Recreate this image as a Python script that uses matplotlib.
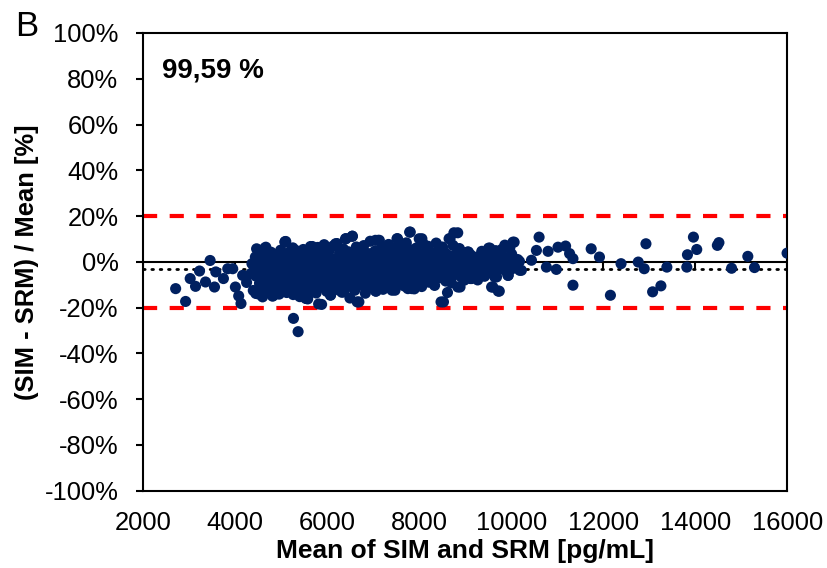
import matplotlib
matplotlib.use("Agg")
import matplotlib.pyplot as plt

plt.rcParams['font.family'] = ['Liberation Sans', 'DejaVu Sans']

# ---- data: (mean concentration [pg/mL], relative difference [%]) ----
sparse_x = [2708, 2924, 3024, 3140, 3227, 3457, 3357, 3552, 3580, 3746, 3840, 3948,
            4006, 4078, 4128, 4164, 4366, 4450, 4467, 4655, 4741, 4597, 4344, 4250,
            4668, 4777, 5084, 4993, 5317, 5268, 5369, 5577, 5880, 5678, 4813, 5101,
            5283, 5858, 6183, 6400, 6545, 6761, 6977, 7049, 5571, 4835, 6653, 6869,
            6363, 6073, 7806, 8059, 8838, 8672, 7135, 7518, 8493, 9070, 8203, 7843,
            7064, 7410, 8528, 8888, 9141]
sparse_y = [-11.7, -17.3, -7.3, -10.7, -4.0, 0.6, -8.8, -11.0, -4.4, -7.3, -3.0, -3.0,
            -11.0, -14.9, -18.2, -5.9, -0.8, -13.8, 5.7, 5.7, 3.1, -15.3, -5.1, -9.0,
            6.4, 3.8, 8.6, 4.7, 5.0, -24.7, -30.5, -16.2, -18.6, 6.7, -14.6, 8.9,
            5.0, 6.0, 7.9, 10.1, 11.2, 5.0, 2.8, 9.4, -16.0, -14.6, -17.5, -7.3,
            -13.1, -14.6, 13.0, 10.1, 12.7, 10.1, 9.4, 10.1, 6.4, 4.3, -8.8, -11.7,
            -12.8, -12.4, -17.5, -11.0, -7.3]

right_x = [10606, 9536, 10064, 9969, 10548, 10801, 11017, 11182, 11269, 11342, 10440,
           10765, 10981, 11342, 10185, 9935, 9682, 9574, 9719, 9286, 9321, 11738, 11918,
           12387, 12156, 12928, 12761, 12891, 13073, 13253, 13383, 13830, 13816, 13960,
           14032, 14480, 14514, 14789, 15142, 15287, 15995]
right_y = [10.8, 6.0, 8.6, 6.0, 5.0, 4.6, 6.4, 6.9, 3.6, 1.4, 0.7,
           -2.3, -3.3, -10.2, -3.7, -5.9, -6.6, -11.0, -12.8, 2.1, -4.4, 5.7, 2.1,
           -0.8, -14.6, 7.9, -0.1, -3.0, -13.1, -10.5, -2.3, 3.1, -2.3, 10.8,
           5.4, 7.2, 8.4, -2.8, 2.4, -2.5, 3.8]

core_x = [
    [4395, 4448, 4410, 4440], [4530, 4488, 4522, 4500], [4560, 4605, 4590, 4571],
    [4672, 4630, 4661, 4645], [4700, 4745, 4712, 4733], [4808, 4770, 4795, 4781, 4815],
    [4842, 4885, 4866, 4850], [4952, 4910, 4940, 4921, 4957], [4978, 5022, 5010, 4990, 5030],
    [5091, 5048, 5075, 5060, 5085], [5120, 5162, 5133, 5150, 5115], [5232, 5190, 5220, 5201, 5240],
    [5262, 5301, 5274, 5290, 5255], [5372, 5331, 5358, 5340, 5369], [5398, 5440, 5411, 5430, 5405],
    [5512, 5470, 5498, 5481, 5515], [5540, 5582, 5553, 5570, 5535], [5651, 5610, 5638, 5621, 5655],
    [5680, 5722, 5693, 5710, 5675], [5791, 5750, 5778, 5761, 5795], [5820, 5862, 5833, 5850, 5815],
    [5931, 5890, 5918, 5901, 5935], [5960, 6002, 5973, 5990, 5955], [6071, 6030, 6058, 6041, 6075],
    [6100, 6142, 6113, 6130, 6095], [6211, 6170, 6198, 6181, 6215], [6240, 6282, 6253, 6270, 6235],
    [6351, 6310, 6338, 6321, 6355], [6380, 6422, 6393, 6410, 6375], [6491, 6450, 6478, 6461, 6495],
    [6520, 6562, 6533, 6550, 6515], [6631, 6590, 6618, 6601, 6635], [6660, 6702, 6673, 6690, 6655],
    [6771, 6730, 6758, 6741, 6775], [6800, 6842, 6813, 6830, 6795], [6911, 6870, 6898, 6881, 6915],
    [6940, 6982, 6953, 6970, 6935], [7051, 7010, 7038, 7021, 7055], [7080, 7122, 7093, 7110, 7075],
    [7191, 7150, 7178, 7161, 7195], [7220, 7262, 7233, 7250, 7215], [7331, 7290, 7318, 7301, 7335],
    [7360, 7402, 7373, 7390, 7355], [7471, 7430, 7458, 7441, 7475], [7500, 7542, 7513, 7530, 7495],
    [7611, 7570, 7598, 7581, 7615], [7640, 7682, 7653, 7670, 7635], [7751, 7710, 7738, 7721, 7755],
    [7780, 7822, 7793, 7810, 7775], [7891, 7850, 7878, 7861, 7895], [7920, 7962, 7933, 7950, 7915],
    [8031, 7990, 8018, 8001, 8035], [8060, 8102, 8073, 8090, 8055], [8171, 8130, 8158, 8141, 8175],
    [8200, 8242, 8213, 8230, 8195], [8311, 8270, 8298, 8281, 8315], [8340, 8382, 8353, 8370, 8335],
    [8451, 8410, 8438, 8421, 8455], [8480, 8522, 8493, 8510, 8475], [8591, 8550, 8578, 8561, 8595],
    [8620, 8662, 8633, 8650, 8615], [8731, 8690, 8718, 8701, 8735], [8760, 8802, 8773, 8790, 8755],
    [8871, 8830, 8858, 8841, 8875], [8900, 8942, 8913, 8930, 8895], [9011, 8970, 8998, 8981, 9015],
    [9040, 9082, 9053, 9070, 9035], [9151, 9110, 9138, 9121], [9180, 9222, 9193, 9210],
    [9301, 9260, 9288, 9271], [9330, 9372, 9343, 9360], [9451, 9410, 9438, 9421],
    [9480, 9522, 9493, 9510], [9601, 9560, 9588, 9571], [9630, 9672, 9643, 9660],
    [9741, 9700, 9728, 9711], [9780, 9822, 9793, 9810], [9891, 9850, 9878, 9861],
    [9930, 9972, 9943, 9960], [10051, 10010, 10038, 10021], [10100, 10142], [10221, 10180],
]
core_y = [
    [-12.5, -6.2, -1.8, 2.1], [-9.4, -4.0, 0.5, -14.0], [-11.0, -7.5, -2.7, 3.5],
    [-13.2, -5.1, -0.6, 6.0], [-8.8, -3.4, 1.7, -10.9], [-12.1, -6.7, -1.2, 4.2, -15.0],
    [-9.9, -4.5, 0.9, -7.8], [-11.6, -2.3, 2.8, -6.0, -14.1], [-8.1, -3.9, 0.2, 5.1, -12.7],
    [-10.4, -5.6, -1.5, 3.0, 8.8], [-13.4, -7.2, -2.9, 1.1, -9.5], [-11.2, -4.8, 0.0, 4.6, -6.3],
    [-14.3, -8.6, -3.1, 2.3, 6.1], [-10.1, -5.9, -0.9, -12.5, 3.7], [-7.4, -2.2, 1.6, -11.8, -15.2],
    [-9.2, -4.1, 0.7, 5.4, -13.0], [-6.5, -1.4, 2.9, -10.7, -16.0], [-8.3, -3.6, 6.7, -12.0, 0.4],
    [-11.5, -5.2, -0.3, 4.0, -7.9], [-9.6, -2.6, 1.9, -13.6, 6.3], [-7.0, -4.4, 0.1, -11.1, -18.4],
    [-10.3, -5.7, -1.1, 3.3, 7.5], [-8.7, -3.0, 2.4, -12.9, -6.1], [-11.9, -6.8, -0.5, 4.8, -14.4],
    [-9.0, -4.2, 1.3, 6.9, -2.0], [-7.6, -3.3, 0.6, -10.6, 8.0], [-12.2, -5.4, -1.7, 3.9, -8.4],
    [-9.8, -2.8, 2.2, -13.3, 5.6], [-6.9, -4.6, -0.2, 10.1, -11.4], [-8.0, -3.5, 1.5, 4.4, -15.8],
    [-10.8, -5.0, -1.0, 11.2, -6.6], [-7.3, -2.4, 2.6, -12.4, 6.5], [-9.3, -4.9, 0.3, -17.5, 3.2],
    [-6.0, -1.9, 5.0, -10.2, -3.8], [-8.5, -3.2, 1.0, -13.7, 7.1], [-5.5, -0.8, 3.6, -9.1, -7.0],
    [-7.7, -2.9, 2.8, -11.3, 9.0], [-4.7, -0.4, 4.7, -8.9, -12.8], [-6.4, -2.1, 1.8, 9.4, -10.0],
    [-5.0, -1.3, 3.4, -7.6, 6.2], [-8.2, -3.7, 0.8, 5.3, -12.0], [-4.3, -0.7, 2.5, -9.7, 7.6],
    [-6.9, -2.7, 1.2, -11.6, 4.1], [-3.6, 0.2, 5.9, -8.0, -12.4], [-5.8, -1.6, 3.0, 10.1, -9.9],
    [-7.1, -3.1, 0.9, 6.6, -4.9], [-4.0, -0.1, 4.3, -10.5, -6.8], [-6.2, -2.0, 2.0, 8.3, -11.7],
    [-3.4, 0.6, 13.0, -7.3, 5.5], [-5.3, -1.8, 2.7, -9.4, -11.8], [-2.8, 1.4, 6.0, -6.5, -4.1],
    [-4.6, -0.9, 3.5, 10.1, -8.7], [-6.0, -2.3, 1.1, 7.9, -10.8], [-3.0, 0.4, 4.9, -7.7, -1.5],
    [-5.1, -1.2, 2.3, -8.8, 6.8], [-2.5, 0.8, -6.2, 3.8, -4.4], [-4.8, -1.0, 2.0, 8.2, -10.3],
    [-3.3, 0.3, -7.0, 5.2, -1.9], [-5.6, -2.1, 1.7, 6.4, -17.5], [-2.7, 0.9, -8.4, 4.0, -4.6],
    [-4.2, -0.6, 2.9, 10.1, -13.4], [-6.1, -1.7, 1.3, -9.2, 7.2], [-3.1, 0.5, -5.0, 3.1, 12.7],
    [-4.9, -1.4, 2.1, -11.0, 5.8], [-2.2, 0.0, -6.6, 1.8, -3.9], [-4.4, -0.8, 3.9, -8.0, -2.6],
    [-2.9, 0.7, 4.3, -5.9, -1.3], [-4.0, -7.3, 1.6, 3.0], [-2.4, 0.3, -5.2, -1.0],
    [-3.7, 2.1, -4.4, -7.9], [-1.8, 0.9, -3.1, 4.6], [-4.5, -0.5, 2.4, -6.3],
    [-2.0, 1.5, -3.5, 6.0], [-11.0, -4.8, -0.9, 3.2], [-2.7, 1.2, -6.6, 4.9],
    [-12.8, -3.9, -0.2, 2.6], [-1.5, 0.8, 5.4, -2.9], [-4.1, 1.9, -0.6, 7.3],
    [-5.9, -2.2, 0.6, 6.0], [-1.0, 3.4, 8.6, -3.0], [-2.0, 1.0], [-3.7, 0.2],
]

mean_bias = -3.2
limits = [20, -20]
x_ticks = [2000, 4000, 6000, 8000, 10000, 12000, 14000, 16000]
y_ticks = [-100, -80, -60, -40, -20, 0, 20, 40, 60, 80, 100]
agreement_text = "99,59 %"

# ---- assemble ----
xs = list(sparse_x) + list(right_x)
ys = list(sparse_y) + list(right_y)
for cxs, cys in zip(core_x, core_y):
    xs.extend(cxs)
    ys.extend(cys)

fig = plt.figure(figsize=(8.27, 5.68), dpi=100)
ax = fig.add_axes([0.173, 0.136, 0.779, 0.806])

ax.set_xlim(2000, 16000)
ax.set_ylim(-100, 100)

for lim in limits:
    ax.axhline(lim, color='#ff0000', lw=3.0, dashes=(3.4, 3.0), zorder=2)
ax.axhline(0, color='black', lw=1.5, zorder=1)
ax.axhline(mean_bias, color='black', lw=2.0, linestyle=(0, (0.6, 2.4)),
           dash_capstyle='round', zorder=1)
ax.vlines(x_ticks, -3.0, 0, color='black', lw=1.5, zorder=1)

ax.scatter(xs, ys, s=64, color='#002060', edgecolors='none', zorder=3)

ax.set_xticks(x_ticks)
ax.set_yticks(y_ticks)
ax.set_yticklabels([f"{v}%" for v in y_ticks])
ax.tick_params(axis='x', length=0, pad=14.5, labelsize=18.4)
ax.tick_params(axis='y', length=5.2, width=1.5, direction='out', pad=12.5, labelsize=18.4)
for s in ax.spines.values():
    s.set_linewidth(1.5)

ax.set_xlabel("Mean of SIM and SRM [pg/mL]", fontsize=19, fontweight='bold', labelpad=3)
ax.set_ylabel("(SIM - SRM) / Mean [%]", fontsize=18.4, fontweight='bold', labelpad=4)

ax.text(0.029, 0.919, agreement_text, transform=ax.transAxes, fontsize=20,
        fontweight='bold', va='center', ha='left')
fig.text(0.018, 0.954, "B", fontsize=25, va='center', ha='left')

fig.savefig("out.png", dpi=100)
